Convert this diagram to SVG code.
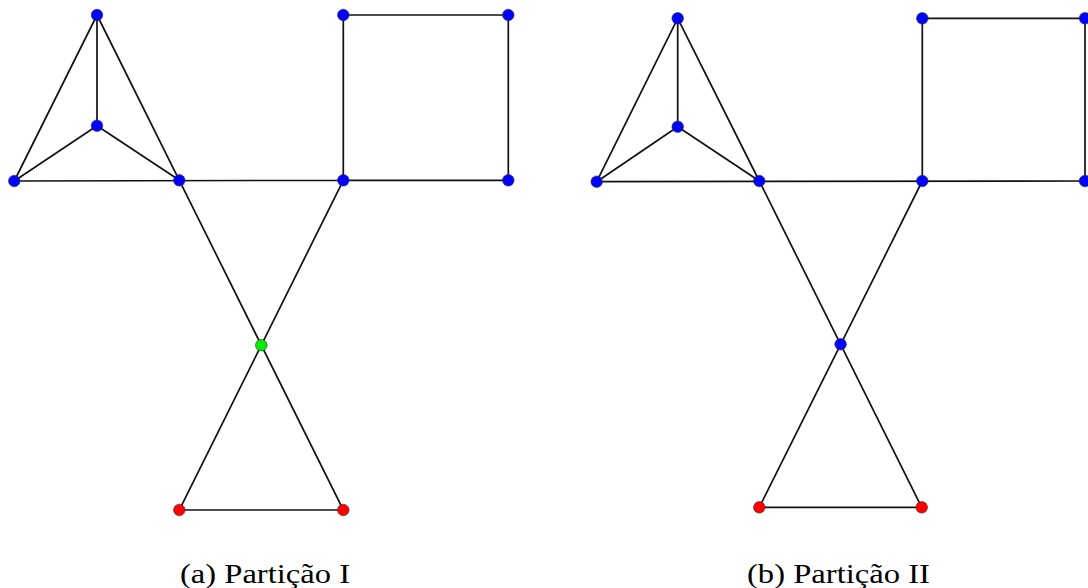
<svg xmlns="http://www.w3.org/2000/svg" width="1088" height="588" viewBox="0 0 1088 588">
<style>
.e{stroke:#111;stroke-width:1.7;fill:none}
.n{stroke:#333;stroke-width:0.6}
.b{fill:#0000ff}
.r{fill:#ff0000}
.g{fill:#00ee00}
.cap{font-size:27px;fill:#000}
</style>
<rect width="1088" height="588" fill="#fff"/>
<g id="connectors">
<path class="e" d="M97,15 L14.3,181 M97,15 L97,125.7 M97,15 L179.3,180.3 M97,125.7 L14.3,181 M97,125.7 L179.3,180.3 M14.3,181 L343.3,180.3 M343.3,15 L508.3,15 L508.3,180.3 L343.3,180.3 Z M179.3,180.3 L343.3,510 M343.3,180.3 L179.3,510 L343.3,510"/>
<path class="e" d="M677.7,18.3 L596.7,181.7 M677.7,18.3 L677.7,126.7 M677.7,18.3 L759.3,181 M677.7,126.7 L596.7,181.7 M677.7,126.7 L759.3,181 M596.7,181.7 L1085,181 M922.3,18.3 L1085,18.3 L1085,181 M922.3,18.3 L922.3,181 M759.3,181 L921.7,507.3 M922.3,181 L759.3,507.3 L921.7,507.3"/>
</g>
<g id="a-top"><circle class="n b" cx="97" cy="15" r="5.8"/></g>
<g id="a-inner"><circle class="n b" cx="97" cy="125.7" r="5.8"/></g>
<g id="a-left"><circle class="n b" cx="14.3" cy="181" r="5.8"/></g>
<g id="a-hub"><circle class="n b" cx="179.3" cy="180.3" r="5.8"/></g>
<g id="a-sq-tl"><circle class="n b" cx="343.3" cy="15" r="5.8"/></g>
<g id="a-sq-tr"><circle class="n b" cx="508.3" cy="15" r="5.8"/></g>
<g id="a-sq-bl"><circle class="n b" cx="343.3" cy="180.3" r="5.8"/></g>
<g id="a-sq-br"><circle class="n b" cx="508.3" cy="180.3" r="5.8"/></g>
<g id="a-center"><circle class="n g" cx="261.3" cy="345.2" r="5.8"/></g>
<g id="a-red-l"><circle class="n r" cx="179.3" cy="510" r="5.8"/></g>
<g id="a-red-r"><circle class="n r" cx="343.3" cy="510" r="5.8"/></g>
<g id="b-top"><circle class="n b" cx="677.7" cy="18.3" r="5.8"/></g>
<g id="b-inner"><circle class="n b" cx="677.7" cy="126.7" r="5.8"/></g>
<g id="b-left"><circle class="n b" cx="596.7" cy="181.7" r="5.8"/></g>
<g id="b-hub"><circle class="n b" cx="759.3" cy="181" r="5.8"/></g>
<g id="b-sq-tl"><circle class="n b" cx="922.3" cy="18.3" r="5.8"/></g>
<g id="b-sq-tr"><circle class="n b" cx="1085" cy="18.3" r="5.8"/></g>
<g id="b-sq-bl"><circle class="n b" cx="922.3" cy="181" r="5.8"/></g>
<g id="b-sq-br"><circle class="n b" cx="1085" cy="181" r="5.8"/></g>
<g id="b-center"><circle class="n b" cx="840.6" cy="344.2" r="5.8"/></g>
<g id="b-red-l"><circle class="n r" cx="759.3" cy="507.3" r="5.8"/></g>
<g id="b-red-r"><circle class="n r" cx="921.7" cy="507.3" r="5.8"/></g>
<g id="caption-a"><text class="cap" font-family="'Liberation Serif', 'Times New Roman', serif" x="180" y="583" textLength="170" lengthAdjust="spacingAndGlyphs">(a) Partição I</text></g>
<g id="caption-b"><text class="cap" font-family="'Liberation Serif', 'Times New Roman', serif" x="747" y="583" textLength="183" lengthAdjust="spacingAndGlyphs">(b) Partição II</text></g>
</svg>
